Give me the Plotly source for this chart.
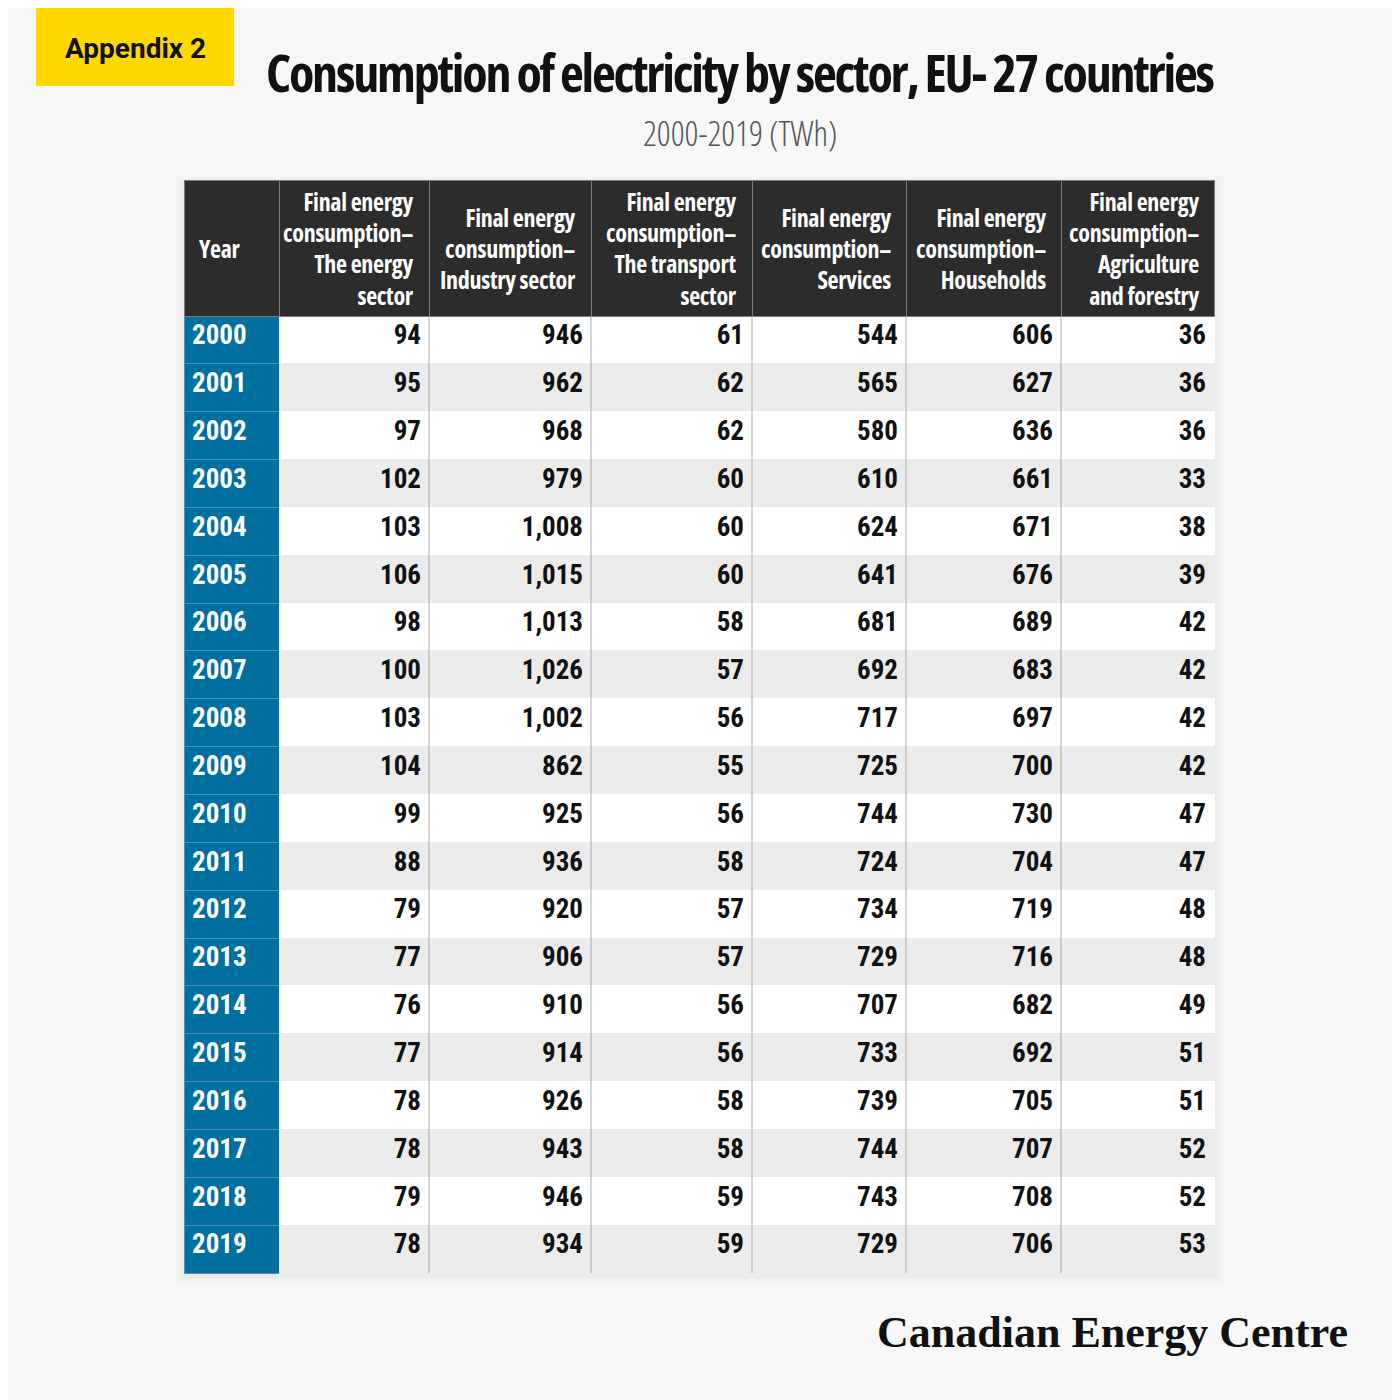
import plotly.graph_objects as go

# - - - - - - - - - - data - - - - - - - - - -
years = [str(y) for y in range(2000, 2020)]
energy_sector = [94, 95, 97, 102, 103, 106, 98, 100, 103, 104, 99, 88, 79, 77, 76, 77, 78, 78, 79, 78]
industry = [946, 962, 968, 979, 1008, 1015, 1013, 1026, 1002, 862, 925, 936, 920, 906, 910, 914, 926, 943, 946, 934]
transport = [61, 62, 62, 60, 60, 60, 58, 57, 56, 55, 56, 58, 57, 57, 56, 56, 58, 58, 59, 59]
services = [544, 565, 580, 610, 624, 641, 681, 692, 717, 725, 744, 724, 734, 729, 707, 733, 739, 744, 743, 729]
households = [606, 627, 636, 661, 671, 676, 689, 683, 697, 700, 730, 704, 719, 716, 682, 692, 705, 707, 708, 706]
agriculture = [36, 36, 36, 33, 38, 39, 42, 42, 42, 42, 47, 47, 48, 48, 49, 51, 51, 52, 52, 53]

headers = [
    "Year",
    "Final energy<br>consumption–<br>The energy<br>sector",
    "Final energy<br>consumption–<br>Industry sector",
    "Final energy<br>consumption–<br>The transport<br>sector",
    "Final energy<br>consumption–<br>Services",
    "Final energy<br>consumption–<br>Households",
    "Final energy<br>consumption–<br>Agriculture<br>and forestry",
]

col_w = [95, 150, 162, 161, 154, 155, 153]


# the page puts the figure 8px in from the corner: map reference pixels to paper
def px(x):
    return (x - 8) / 1400


def py(y):
    return 1 - (y - 8) / 1400


def cond(txt, size, weight=700, spacing=0):
    return ("<span style='font-stretch:75%;font-size:{}px;font-weight:{};letter-spacing:{}px'>{}</span>"
            .format(size, weight, spacing, txt))


FONT = "Open Sans, Roboto Condensed, sans-serif"
CELL_FONT = "Roboto Condensed, Open Sans, sans-serif"

x0, x1 = px(184), px(1214)
n = len(years)
row_fill = ["#ffffff" if i % 2 == 0 else "#ebebeb" for i in range(n)]
blue = "#0070a0"

fill_cols = [[blue] * n] + [row_fill] * 6
line_cols = [["#4d93bb"] * n] + [row_fill] * 6
font_cols = [["#ffffff"] * n] + [["#111111"] * n] * 6

fig = go.Figure()

# soft shadow behind the table
for pad, col in [(8, "#f4f4f4"), (5, "#f0f0f0"), (2, "#ebebeb")]:
    fig.add_shape(type="rect", xref="paper", yref="paper",
                  x0=px(184 - pad), x1=px(1214 + pad), y0=py(1273 + pad + 3), y1=py(180 - pad + 3),
                  fillcolor=col, line_width=0, layer="below")

fig.add_trace(go.Table(
    domain=dict(x=[x0, x1], y=[py(1295), py(180)]),
    columnwidth=col_w,
    header=dict(
        values=[""] * len(headers),
        fill_color="#2c2c2c",
        line=dict(color="#7d7d7d", width=1),
        height=136,
    ),
    cells=dict(
        values=[years, energy_sector, industry, transport, services, households, agriculture],
        format=["", ",", ",", ",", ",", ",", ","],
        fill_color=fill_cols,
        line=dict(color=line_cols, width=1),
        font=dict(family=CELL_FONT, size=27, color=font_cols, weight="bold"),
        align=["left"] + ["right"] * 6,
        height=47.85,
    ),
))

# header labels, centred vertically in the header band
tot = sum(col_w)
edges = [x0]
for w in col_w:
    edges.append(edges[-1] + (x1 - x0) * w / tot)

for i, h in enumerate(headers):
    if i == 0:
        xa, anchor = edges[0] + 13 / 1400, "left"
    else:
        xa, anchor = edges[i + 1] - 13 / 1400, "right"
    fig.add_annotation(x=xa, y=py(248), xref="paper", yref="paper", xanchor=anchor, yanchor="middle",
                       align=anchor, showarrow=False, text=cond(h, 24, 700, -0.3),
                       font=dict(family=FONT, size=24, color="white"))

# column separators in the body
for xp in edges[2:-1]:
    fig.add_shape(type="line", xref="paper", yref="paper", x0=xp, x1=xp,
                  y0=py(1273), y1=py(316), line=dict(color="#ababab", width=1))

# yellow tag
fig.add_shape(type="rect", xref="paper", yref="paper", x0=px(36), x1=px(234),
              y0=py(86), y1=py(0), fillcolor="#ffd800", line_width=0, layer="below")
fig.add_annotation(x=px(135), y=py(48), xref="paper", yref="paper", xanchor="center", yanchor="middle",
                   text="<b>Appendix 2</b>", showarrow=False,
                   font=dict(family="Roboto, Liberation Sans, sans-serif", size=28, color="#111"))

fig.add_annotation(x=px(740), y=py(72), xref="paper", yref="paper", xanchor="center", yanchor="middle",
                   text=cond("Consumption of electricity by sector, EU- 27 countries", 52, 700, -2.2),
                   showarrow=False, font=dict(family=FONT, size=52, color="#111"))
fig.add_annotation(x=px(740), y=py(133), xref="paper", yref="paper", xanchor="center", yanchor="middle",
                   text=cond("2000-2019 (TWh)", 34, 300, 0), showarrow=False,
                   font=dict(family=FONT, size=34, color="#555"))
fig.add_annotation(x=px(1350), y=py(1332), xref="paper", yref="paper", xanchor="right", yanchor="middle",
                   text="<b>Canadian Energy Centre</b>", showarrow=False,
                   font=dict(family="Liberation Serif, DejaVu Serif, serif", size=44, color="#111"))

fig.update_layout(
    width=1400, height=1400,
    margin=dict(l=0, r=0, t=0, b=0),
    paper_bgcolor="#f7f7f7",
    plot_bgcolor="#f7f7f7",
)

fig.write_html("out.html")
